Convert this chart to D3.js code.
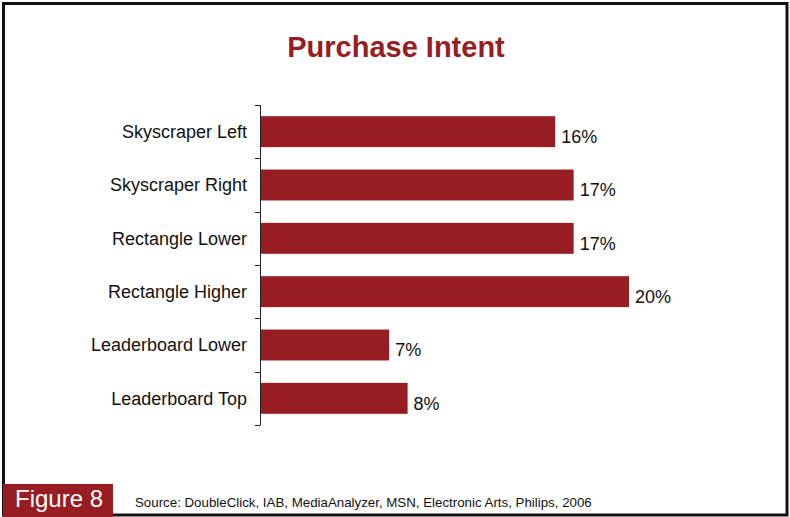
<!DOCTYPE html>
<html>
<head>
<meta charset="utf-8">
<script src="https://cdn.jsdelivr.net/npm/d3@7"></script>
<style>
  html, body { margin: 0; padding: 0; background: #fff; }
  svg { display: block; font-family: "Liberation Sans", Arial, sans-serif; }
</style>
</head>
<body>
<svg id="chart" width="790" height="517"></svg>
<script>
// Ad placement categories, top to bottom
const categories = [
  "Skyscraper Left",
  "Skyscraper Right",
  "Rectangle Lower",
  "Rectangle Higher",
  "Leaderboard Lower",
  "Leaderboard Top"
];
// Purchase intent, percent
const values = [16, 17, 17, 20, 7, 8];
const valueLabels = ["16%", "17%", "17%", "20%", "7%", "8%"];

const title = "Purchase Intent";
const figureLabel = "Figure 8";
const source = "Source: DoubleClick, IAB, MediaAnalyzer, MSN, Electronic Arts, Philips, 2006";

const red = "#981d23";
const svg = d3.select("#chart");

// Outer frame
svg.append("rect")
  .attr("x", 3.5).attr("y", 3.5)
  .attr("width", 783.5).attr("height", 511.5)
  .attr("fill", "#fff")
  .attr("stroke", "#111").attr("stroke-width", 3);

// Title
svg.append("text")
  .attr("x", 396).attr("y", 57)
  .attr("text-anchor", "middle")
  .attr("fill", red)
  .attr("font-size", 29)
  .attr("font-weight", "bold")
  .text(title);

const x = d3.scaleLinear().domain([0, 20]).range([260, 629]);
const y = d3.scaleBand().domain(categories).range([105, 425]).paddingInner(0.42).paddingOuter(0.21);

// Bars
svg.append("g").selectAll("rect")
  .data(values)
  .join("rect")
  .attr("x", x(0))
  .attr("y", (d, i) => y(categories[i]))
  .attr("width", d => x(d) - x(0))
  .attr("height", y.bandwidth())
  .attr("fill", red);

// Value labels, sitting slightly below the bar centre
svg.append("g").selectAll("text")
  .data(values)
  .join("text")
  .attr("x", d => x(d) + 6)
  .attr("y", (d, i) => y(categories[i]) + y.bandwidth() / 2 + 5)
  .attr("dy", "0.35em")
  .attr("font-size", 18)
  .attr("fill", "#111")
  .text((d, i) => valueLabels[i]);

// Category axis: vertical line with ticks at band boundaries
const bounds = d3.range(categories.length + 1).map(i => 105 + i * (320 / categories.length));
const axis = svg.append("g");
axis.append("line")
  .attr("x1", 260.5).attr("x2", 260.5)
  .attr("y1", bounds[0]).attr("y2", bounds[bounds.length - 1])
  .attr("stroke", "#222").attr("stroke-width", 1);
axis.selectAll("line.tick")
  .data(bounds)
  .join("line")
  .attr("class", "tick")
  .attr("x1", 255).attr("x2", 260.5)
  .attr("y1", d => Math.round(d) + 0.5).attr("y2", d => Math.round(d) + 0.5)
  .attr("stroke", "#222").attr("stroke-width", 1);

axis.selectAll("text")
  .data(categories)
  .join("text")
  .attr("x", 247)
  .attr("y", d => y(d) + y.bandwidth() / 2)
  .attr("dy", "0.35em")
  .attr("text-anchor", "end")
  .attr("font-size", 18)
  .attr("fill", "#111")
  .text(d => d);

// Footer
svg.append("rect")
  .attr("x", 3).attr("y", 484)
  .attr("width", 110).attr("height", 33)
  .attr("fill", red);
svg.append("text")
  .attr("x", 59).attr("y", 507)
  .attr("text-anchor", "middle")
  .attr("fill", "#fff")
  .attr("font-size", 24)
  .text(figureLabel);
svg.append("text")
  .attr("x", 135).attr("y", 507)
  .attr("fill", "#111")
  .attr("font-size", 13.3)
  .text(source);
</script>
</body>
</html>
